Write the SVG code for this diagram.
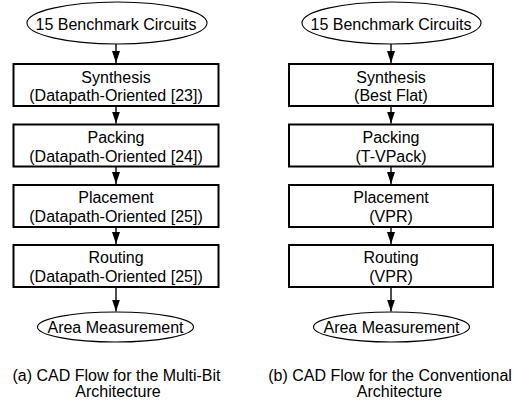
<svg xmlns="http://www.w3.org/2000/svg" width="525" height="406" viewBox="0 0 525 406">
  <style>
    text { font-family: "Liberation Sans", Arial, sans-serif; font-size: 16px; fill: #000; text-anchor: middle; }
    .box { fill: #fff; stroke: #000; stroke-width: 2; }
    .term { fill: #fff; stroke: #000; stroke-width: 1.1; }
    .edge { stroke: #000; stroke-width: 1.4; fill: none; marker-end: url(#arrow); }
  </style>
  <defs>
    <marker id="arrow" markerUnits="userSpaceOnUse" markerWidth="12" markerHeight="8" refX="12" refY="4" orient="auto" viewBox="0 0 12 8">
      <path d="M0,0 L12,4 L0,8 Z" fill="#000"/>
    </marker>
  </defs>

  <!-- connectors -->
  <g id="connectors">
    <line class="edge" x1="116" y1="44" x2="116" y2="63"/>
    <line class="edge" x1="116" y1="106" x2="116" y2="123.5"/>
    <line class="edge" x1="116" y1="166.5" x2="116" y2="184"/>
    <line class="edge" x1="116" y1="227" x2="116" y2="244"/>
    <line class="edge" x1="116" y1="287" x2="116" y2="311.5"/>

    <line class="edge" x1="391" y1="44" x2="391" y2="63"/>
    <line class="edge" x1="391" y1="106" x2="391" y2="123.5"/>
    <line class="edge" x1="391" y1="166.5" x2="391" y2="184"/>
    <line class="edge" x1="391" y1="227" x2="391" y2="244"/>
    <line class="edge" x1="391" y1="287" x2="391" y2="311.5"/>
  </g>

  <!-- (a) multi-bit flow -->
  <g id="a-input">
    <ellipse class="term" cx="117" cy="23" rx="90" ry="21"/>
    <text x="116" y="30">15 Benchmark Circuits</text>
  </g>
  <g id="a-synthesis">
    <rect class="box" x="13.5" y="64" width="205" height="42"/>
    <text x="116" y="82.5">Synthesis</text>
    <text x="116" y="101">(Datapath-Oriented [23])</text>
  </g>
  <g id="a-packing">
    <rect class="box" x="13.5" y="124.5" width="205" height="42"/>
    <text x="116" y="143">Packing</text>
    <text x="116" y="161.5">(Datapath-Oriented [24])</text>
  </g>
  <g id="a-placement">
    <rect class="box" x="13.5" y="185" width="205" height="42"/>
    <text x="116" y="203">Placement</text>
    <text x="116" y="221.5">(Datapath-Oriented [25])</text>
  </g>
  <g id="a-routing">
    <rect class="box" x="13.5" y="245" width="205" height="42"/>
    <text x="116" y="263">Routing</text>
    <text x="116" y="281.5">(Datapath-Oriented [25])</text>
  </g>
  <g id="a-output">
    <ellipse class="term" cx="115.5" cy="327" rx="78" ry="15"/>
    <text x="115.5" y="333">Area Measurement</text>
  </g>
  <g id="a-caption">
    <text x="116.5" y="380.5">(a) CAD Flow for the Multi-Bit</text>
    <text x="118" y="397">Architecture</text>
  </g>

  <!-- (b) conventional flow -->
  <g id="b-input">
    <ellipse class="term" cx="391.5" cy="23" rx="89.5" ry="21"/>
    <text x="391" y="30">15 Benchmark Circuits</text>
  </g>
  <g id="b-synthesis">
    <rect class="box" x="289" y="64" width="204" height="42"/>
    <text x="391" y="82.5">Synthesis</text>
    <text x="391" y="101">(Best Flat)</text>
  </g>
  <g id="b-packing">
    <rect class="box" x="289" y="124.5" width="204" height="42"/>
    <text x="391" y="143">Packing</text>
    <text x="391" y="161.5">(T-VPack)</text>
  </g>
  <g id="b-placement">
    <rect class="box" x="289" y="185" width="204" height="42"/>
    <text x="391" y="203">Placement</text>
    <text x="391" y="221.5">(VPR)</text>
  </g>
  <g id="b-routing">
    <rect class="box" x="289" y="245" width="204" height="42"/>
    <text x="391" y="263">Routing</text>
    <text x="391" y="281.5">(VPR)</text>
  </g>
  <g id="b-output">
    <ellipse class="term" cx="391.5" cy="327" rx="78" ry="15"/>
    <text x="391.5" y="333">Area Measurement</text>
  </g>
  <g id="b-caption">
    <text x="390" y="380.5">(b) CAD Flow for the Conventional</text>
    <text x="399.5" y="397">Architecture</text>
  </g>
</svg>
